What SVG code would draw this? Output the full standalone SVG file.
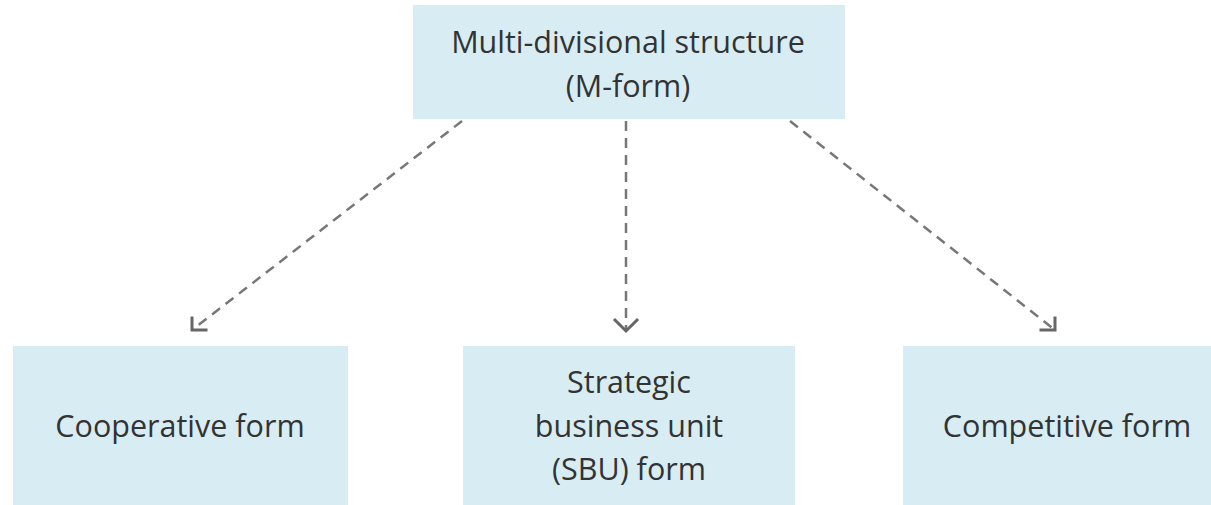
<svg xmlns="http://www.w3.org/2000/svg" width="1211" height="505" viewBox="0 0 1211 505">
  <style>
    .box { fill: #d8edf3; }
    .label { font-family: "Open Sans", "Noto Sans", "Liberation Sans", sans-serif; font-size: 30.5px; fill: #333333; text-anchor: middle; }
    .link { fill: none; stroke: #777777; stroke-width: 2.5; stroke-dasharray: 10 7; }
    .head { fill: none; stroke: #666666; stroke-width: 3; stroke-linecap: square; stroke-linejoin: miter; }
  </style>
  <rect width="1211" height="505" fill="#ffffff"/>

  <g id="m-form">
    <rect class="box" x="413" y="5" width="432" height="114"/>
    <text class="label" x="628" y="53">Multi-divisional structure</text>
    <text class="label" x="628" y="97">(M-form)</text>
  </g>

  <g id="cooperative">
    <rect class="box" x="13" y="346" width="335" height="159"/>
    <text class="label" x="180" y="437">Cooperative form</text>
  </g>

  <g id="sbu">
    <rect class="box" x="463" y="346" width="332" height="159"/>
    <text class="label" x="629" y="393">Strategic</text>
    <text class="label" x="629" y="437">business unit</text>
    <text class="label" x="629" y="480">(SBU) form</text>
  </g>

  <g id="competitive">
    <rect class="box" x="903" y="346" width="308" height="159"/>
    <text class="label" x="1067" y="437">Competitive form</text>
  </g>

  <g id="connectors">
    <line class="link" x1="462" y1="121" x2="192" y2="330"/>
    <polyline class="head" points="192,318 192,330 206,330"/>
    <line class="link" x1="626" y1="121" x2="626" y2="330"/>
    <polyline class="head" points="615,320 626,331 637,320"/>
    <line class="link" x1="790" y1="121" x2="1055" y2="330"/>
    <polyline class="head" points="1055,318 1055,330 1041,330"/>
  </g>
</svg>
